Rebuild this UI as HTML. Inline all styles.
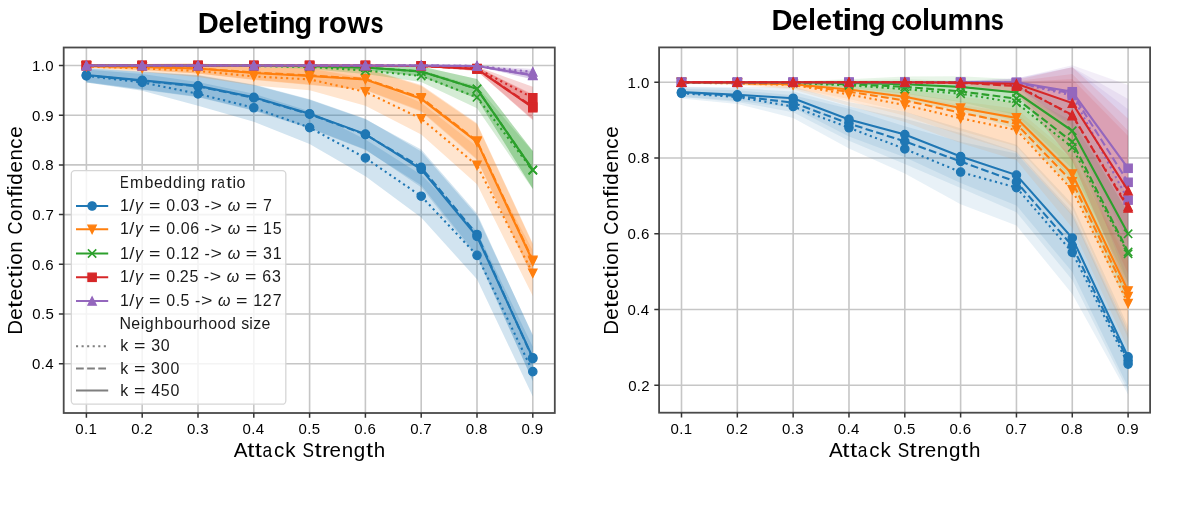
<!DOCTYPE html>
<html><head><meta charset="utf-8"><title>Detection Confidence vs Attack Strength</title>
<style>html,body{margin:0;padding:0;background:#fff;} body{width:1200px;height:506px;overflow:hidden;font-family:"Liberation Sans", sans-serif;} svg{display:block;filter:blur(0.3px);}</style>
</head><body>
<svg width="1200" height="506" viewBox="0 0 1200 506" font-family="'Liberation Sans', sans-serif" fill="#000">
<rect width="1200" height="506" fill="#fff"/>
<clipPath id="clipL"><rect x="63.7" y="47.5" width="491.10" height="365.50"/></clipPath>
<path d="M86.40,47.5V413.0M142.20,47.5V413.0M198.00,47.5V413.0M253.80,47.5V413.0M309.60,47.5V413.0M365.40,47.5V413.0M421.20,47.5V413.0M477.00,47.5V413.0M532.80,47.5V413.0M63.7,363.70H554.8M63.7,314.00H554.8M63.7,264.30H554.8M63.7,214.60H554.8M63.7,164.90H554.8M63.7,115.20H554.8M63.7,65.50H554.8" stroke="#c6c6c6" stroke-width="1.6" fill="none"/>
<g clip-path="url(#clipL)">
<polygon points="86.40,69.48 142.20,73.95 198.00,81.90 253.80,93.83 309.60,111.22 365.40,139.55 421.20,174.84 477.00,231.50 532.80,346.80 532.80,396.50 477.00,279.21 421.20,217.58 365.40,176.33 309.60,144.03 253.80,121.66 198.00,105.76 142.20,90.85 86.40,82.40" fill="#1f77b4" fill-opacity="0.2"/>
<polygon points="86.40,68.48 142.20,71.96 198.00,75.44 253.80,84.88 309.60,99.79 365.40,119.18 421.20,149.49 477.00,213.61 532.80,335.87 532.80,381.59 477.00,255.35 421.20,185.28 365.40,149.99 309.60,128.62 253.80,110.73 198.00,97.31 142.20,89.85 86.40,82.40" fill="#1f77b4" fill-opacity="0.2"/>
<polygon points="86.40,67.98 142.20,71.46 198.00,74.94 253.80,84.39 309.60,99.30 365.40,118.68 421.20,151.48 477.00,215.59 532.80,334.87 532.80,380.60 477.00,257.34 421.20,187.26 365.40,149.49 309.60,128.12 253.80,110.23 198.00,96.81 142.20,89.36 86.40,81.90" fill="#1f77b4" fill-opacity="0.2"/>
<polygon points="86.40,65.00 142.20,65.00 198.00,65.00 253.80,67.49 309.60,68.48 365.40,77.93 421.20,102.77 477.00,146.51 532.80,250.38 532.80,296.11 477.00,184.28 421.20,134.58 365.40,105.76 309.60,90.35 253.80,85.38 198.00,76.93 142.20,71.96 86.40,67.98" fill="#ff7f0e" fill-opacity="0.2"/>
<polygon points="86.40,64.51 142.20,64.01 198.00,63.51 253.80,65.50 309.60,66.49 365.40,67.98 421.20,84.88 477.00,123.15 532.80,243.43 532.80,277.22 477.00,158.94 421.20,110.73 365.40,89.85 309.60,84.39 253.80,79.42 198.00,73.45 142.20,69.97 86.40,67.49" fill="#ff7f0e" fill-opacity="0.2"/>
<polygon points="86.40,64.51 142.20,64.01 198.00,63.51 253.80,66.00 309.60,66.99 365.40,68.48 421.20,85.88 477.00,124.15 532.80,244.42 532.80,278.22 477.00,159.93 421.20,111.72 365.40,90.35 309.60,84.88 253.80,79.91 198.00,73.45 142.20,69.97 86.40,67.49" fill="#ff7f0e" fill-opacity="0.2"/>
<polygon points="86.40,65.50 142.20,65.50 198.00,65.00 253.80,65.00 309.60,65.00 365.40,66.99 421.20,69.97 477.00,86.37 532.80,151.48 532.80,189.25 477.00,108.24 421.20,81.90 365.40,73.95 309.60,68.98 253.80,66.99 198.00,66.00 142.20,65.50 86.40,65.50" fill="#2ca02c" fill-opacity="0.2"/>
<polygon points="86.40,65.50 142.20,65.50 198.00,65.00 253.80,64.51 309.60,64.51 365.40,65.00 421.20,66.49 477.00,78.92 532.80,150.98 532.80,188.76 477.00,98.80 421.20,76.43 365.40,69.97 309.60,67.49 253.80,66.49 198.00,66.00 142.20,65.50 86.40,65.50" fill="#2ca02c" fill-opacity="0.2"/>
<polygon points="86.40,65.50 142.20,65.50 198.00,65.00 253.80,64.51 309.60,64.51 365.40,65.00 421.20,66.49 477.00,78.92 532.80,150.98 532.80,188.76 477.00,98.80 421.20,76.43 365.40,69.97 309.60,67.49 253.80,66.49 198.00,66.00 142.20,65.50 86.40,65.50" fill="#2ca02c" fill-opacity="0.2"/>
<polygon points="86.40,65.50 142.20,65.50 198.00,65.50 253.80,65.50 309.60,65.50 365.40,65.50 421.20,65.50 477.00,66.49 532.80,86.87 532.80,108.74 477.00,70.47 421.20,66.49 365.40,65.50 309.60,65.50 253.80,65.50 198.00,65.50 142.20,65.50 86.40,65.50" fill="#d62728" fill-opacity="0.2"/>
<polygon points="86.40,65.50 142.20,65.50 198.00,65.50 253.80,65.50 309.60,65.50 365.40,65.50 421.20,65.50 477.00,66.99 532.80,94.33 532.80,119.18 477.00,70.97 421.20,66.49 365.40,65.50 309.60,65.50 253.80,65.50 198.00,65.50 142.20,65.50 86.40,65.50" fill="#d62728" fill-opacity="0.2"/>
<polygon points="86.40,65.50 142.20,65.50 198.00,65.50 253.80,65.50 309.60,65.50 365.40,65.50 421.20,65.50 477.00,66.99 532.80,95.32 532.80,120.17 477.00,70.97 421.20,66.49 365.40,65.50 309.60,65.50 253.80,65.50 198.00,65.50 142.20,65.50 86.40,65.50" fill="#d62728" fill-opacity="0.2"/>
<polygon points="86.40,65.50 142.20,65.50 198.00,65.50 253.80,65.50 309.60,65.50 365.40,65.50 421.20,65.50 477.00,65.50 532.80,68.98 532.80,74.94 477.00,66.49 421.20,65.50 365.40,65.50 309.60,65.50 253.80,65.50 198.00,65.50 142.20,65.50 86.40,65.50" fill="#9467bd" fill-opacity="0.2"/>
<polygon points="86.40,65.50 142.20,65.50 198.00,65.50 253.80,65.50 309.60,65.50 365.40,65.50 421.20,65.50 477.00,65.50 532.80,70.97 532.80,78.92 477.00,66.49 421.20,65.50 365.40,65.50 309.60,65.50 253.80,65.50 198.00,65.50 142.20,65.50 86.40,65.50" fill="#9467bd" fill-opacity="0.2"/>
<polygon points="86.40,65.50 142.20,65.50 198.00,65.50 253.80,65.50 309.60,65.50 365.40,65.50 421.20,65.50 477.00,65.50 532.80,71.46 532.80,79.42 477.00,66.49 421.20,65.50 365.40,65.50 309.60,65.50 253.80,65.50 198.00,65.50 142.20,65.50 86.40,65.50" fill="#9467bd" fill-opacity="0.2"/>
<polyline points="86.40,75.94 142.20,82.40 198.00,93.83 253.80,107.74 309.60,127.62 365.40,157.94 421.20,196.21 477.00,255.35 532.80,371.65" fill="none" stroke="#1f77b4" stroke-width="2.1" stroke-dasharray="2.10,3.46"/>
<circle cx="86.40" cy="75.94" r="4.15" fill="#1f77b4" stroke="#1f77b4" stroke-width="1.3"/>
<circle cx="142.20" cy="82.40" r="4.15" fill="#1f77b4" stroke="#1f77b4" stroke-width="1.3"/>
<circle cx="198.00" cy="93.83" r="4.15" fill="#1f77b4" stroke="#1f77b4" stroke-width="1.3"/>
<circle cx="253.80" cy="107.74" r="4.15" fill="#1f77b4" stroke="#1f77b4" stroke-width="1.3"/>
<circle cx="309.60" cy="127.62" r="4.15" fill="#1f77b4" stroke="#1f77b4" stroke-width="1.3"/>
<circle cx="365.40" cy="157.94" r="4.15" fill="#1f77b4" stroke="#1f77b4" stroke-width="1.3"/>
<circle cx="421.20" cy="196.21" r="4.15" fill="#1f77b4" stroke="#1f77b4" stroke-width="1.3"/>
<circle cx="477.00" cy="255.35" r="4.15" fill="#1f77b4" stroke="#1f77b4" stroke-width="1.3"/>
<circle cx="532.80" cy="371.65" r="4.15" fill="#1f77b4" stroke="#1f77b4" stroke-width="1.3"/>
<polyline points="86.40,75.44 142.20,80.91 198.00,86.37 253.80,97.80 309.60,114.21 365.40,134.58 421.20,167.38 477.00,234.48 532.80,358.73" fill="none" stroke="#1f77b4" stroke-width="2.1" stroke-dasharray="7.77,3.36"/>
<circle cx="86.40" cy="75.44" r="4.15" fill="#1f77b4" stroke="#1f77b4" stroke-width="1.3"/>
<circle cx="142.20" cy="80.91" r="4.15" fill="#1f77b4" stroke="#1f77b4" stroke-width="1.3"/>
<circle cx="198.00" cy="86.37" r="4.15" fill="#1f77b4" stroke="#1f77b4" stroke-width="1.3"/>
<circle cx="253.80" cy="97.80" r="4.15" fill="#1f77b4" stroke="#1f77b4" stroke-width="1.3"/>
<circle cx="309.60" cy="114.21" r="4.15" fill="#1f77b4" stroke="#1f77b4" stroke-width="1.3"/>
<circle cx="365.40" cy="134.58" r="4.15" fill="#1f77b4" stroke="#1f77b4" stroke-width="1.3"/>
<circle cx="421.20" cy="167.38" r="4.15" fill="#1f77b4" stroke="#1f77b4" stroke-width="1.3"/>
<circle cx="477.00" cy="234.48" r="4.15" fill="#1f77b4" stroke="#1f77b4" stroke-width="1.3"/>
<circle cx="532.80" cy="358.73" r="4.15" fill="#1f77b4" stroke="#1f77b4" stroke-width="1.3"/>
<polyline points="86.40,74.94 142.20,80.41 198.00,85.88 253.80,97.31 309.60,113.71 365.40,134.09 421.20,169.37 477.00,236.47 532.80,357.74" fill="none" stroke="#1f77b4" stroke-width="2.1"/>
<circle cx="86.40" cy="74.94" r="4.15" fill="#1f77b4" stroke="#1f77b4" stroke-width="1.3"/>
<circle cx="142.20" cy="80.41" r="4.15" fill="#1f77b4" stroke="#1f77b4" stroke-width="1.3"/>
<circle cx="198.00" cy="85.88" r="4.15" fill="#1f77b4" stroke="#1f77b4" stroke-width="1.3"/>
<circle cx="253.80" cy="97.31" r="4.15" fill="#1f77b4" stroke="#1f77b4" stroke-width="1.3"/>
<circle cx="309.60" cy="113.71" r="4.15" fill="#1f77b4" stroke="#1f77b4" stroke-width="1.3"/>
<circle cx="365.40" cy="134.09" r="4.15" fill="#1f77b4" stroke="#1f77b4" stroke-width="1.3"/>
<circle cx="421.20" cy="169.37" r="4.15" fill="#1f77b4" stroke="#1f77b4" stroke-width="1.3"/>
<circle cx="477.00" cy="236.47" r="4.15" fill="#1f77b4" stroke="#1f77b4" stroke-width="1.3"/>
<circle cx="532.80" cy="357.74" r="4.15" fill="#1f77b4" stroke="#1f77b4" stroke-width="1.3"/>
<polyline points="86.40,66.49 142.20,68.48 198.00,70.97 253.80,76.43 309.60,79.42 365.40,91.84 421.20,118.68 477.00,165.40 532.80,273.25" fill="none" stroke="#ff7f0e" stroke-width="2.1" stroke-dasharray="2.10,3.46"/>
<polygon points="82.25,62.34 90.55,62.34 86.40,70.64" fill="#ff7f0e" stroke="#ff7f0e" stroke-width="1.3" stroke-linejoin="miter"/>
<polygon points="138.05,64.33 146.35,64.33 142.20,72.63" fill="#ff7f0e" stroke="#ff7f0e" stroke-width="1.3" stroke-linejoin="miter"/>
<polygon points="193.85,66.82 202.15,66.82 198.00,75.12" fill="#ff7f0e" stroke="#ff7f0e" stroke-width="1.3" stroke-linejoin="miter"/>
<polygon points="249.65,72.28 257.95,72.28 253.80,80.58" fill="#ff7f0e" stroke="#ff7f0e" stroke-width="1.3" stroke-linejoin="miter"/>
<polygon points="305.45,75.27 313.75,75.27 309.60,83.57" fill="#ff7f0e" stroke="#ff7f0e" stroke-width="1.3" stroke-linejoin="miter"/>
<polygon points="361.25,87.69 369.55,87.69 365.40,95.99" fill="#ff7f0e" stroke="#ff7f0e" stroke-width="1.3" stroke-linejoin="miter"/>
<polygon points="417.05,114.53 425.35,114.53 421.20,122.83" fill="#ff7f0e" stroke="#ff7f0e" stroke-width="1.3" stroke-linejoin="miter"/>
<polygon points="472.85,161.25 481.15,161.25 477.00,169.55" fill="#ff7f0e" stroke="#ff7f0e" stroke-width="1.3" stroke-linejoin="miter"/>
<polygon points="528.65,269.10 536.95,269.10 532.80,277.40" fill="#ff7f0e" stroke="#ff7f0e" stroke-width="1.3" stroke-linejoin="miter"/>
<polyline points="86.40,66.00 142.20,66.99 198.00,68.48 253.80,72.46 309.60,75.44 365.40,78.92 421.20,97.80 477.00,141.04 532.80,260.32" fill="none" stroke="#ff7f0e" stroke-width="2.1" stroke-dasharray="7.77,3.36"/>
<polygon points="82.25,61.85 90.55,61.85 86.40,70.15" fill="#ff7f0e" stroke="#ff7f0e" stroke-width="1.3" stroke-linejoin="miter"/>
<polygon points="138.05,62.84 146.35,62.84 142.20,71.14" fill="#ff7f0e" stroke="#ff7f0e" stroke-width="1.3" stroke-linejoin="miter"/>
<polygon points="193.85,64.33 202.15,64.33 198.00,72.63" fill="#ff7f0e" stroke="#ff7f0e" stroke-width="1.3" stroke-linejoin="miter"/>
<polygon points="249.65,68.31 257.95,68.31 253.80,76.61" fill="#ff7f0e" stroke="#ff7f0e" stroke-width="1.3" stroke-linejoin="miter"/>
<polygon points="305.45,71.29 313.75,71.29 309.60,79.59" fill="#ff7f0e" stroke="#ff7f0e" stroke-width="1.3" stroke-linejoin="miter"/>
<polygon points="361.25,74.77 369.55,74.77 365.40,83.07" fill="#ff7f0e" stroke="#ff7f0e" stroke-width="1.3" stroke-linejoin="miter"/>
<polygon points="417.05,93.65 425.35,93.65 421.20,101.95" fill="#ff7f0e" stroke="#ff7f0e" stroke-width="1.3" stroke-linejoin="miter"/>
<polygon points="472.85,136.89 481.15,136.89 477.00,145.19" fill="#ff7f0e" stroke="#ff7f0e" stroke-width="1.3" stroke-linejoin="miter"/>
<polygon points="528.65,256.17 536.95,256.17 532.80,264.47" fill="#ff7f0e" stroke="#ff7f0e" stroke-width="1.3" stroke-linejoin="miter"/>
<polyline points="86.40,66.00 142.20,66.99 198.00,68.48 253.80,72.96 309.60,75.94 365.40,79.42 421.20,98.80 477.00,142.04 532.80,261.32" fill="none" stroke="#ff7f0e" stroke-width="2.1"/>
<polygon points="82.25,61.85 90.55,61.85 86.40,70.15" fill="#ff7f0e" stroke="#ff7f0e" stroke-width="1.3" stroke-linejoin="miter"/>
<polygon points="138.05,62.84 146.35,62.84 142.20,71.14" fill="#ff7f0e" stroke="#ff7f0e" stroke-width="1.3" stroke-linejoin="miter"/>
<polygon points="193.85,64.33 202.15,64.33 198.00,72.63" fill="#ff7f0e" stroke="#ff7f0e" stroke-width="1.3" stroke-linejoin="miter"/>
<polygon points="249.65,68.81 257.95,68.81 253.80,77.11" fill="#ff7f0e" stroke="#ff7f0e" stroke-width="1.3" stroke-linejoin="miter"/>
<polygon points="305.45,71.79 313.75,71.79 309.60,80.09" fill="#ff7f0e" stroke="#ff7f0e" stroke-width="1.3" stroke-linejoin="miter"/>
<polygon points="361.25,75.27 369.55,75.27 365.40,83.57" fill="#ff7f0e" stroke="#ff7f0e" stroke-width="1.3" stroke-linejoin="miter"/>
<polygon points="417.05,94.65 425.35,94.65 421.20,102.95" fill="#ff7f0e" stroke="#ff7f0e" stroke-width="1.3" stroke-linejoin="miter"/>
<polygon points="472.85,137.89 481.15,137.89 477.00,146.19" fill="#ff7f0e" stroke="#ff7f0e" stroke-width="1.3" stroke-linejoin="miter"/>
<polygon points="528.65,257.17 536.95,257.17 532.80,265.47" fill="#ff7f0e" stroke="#ff7f0e" stroke-width="1.3" stroke-linejoin="miter"/>
<polyline points="86.40,65.50 142.20,65.50 198.00,65.50 253.80,66.00 309.60,66.99 365.40,70.47 421.20,75.94 477.00,97.31 532.80,170.37" fill="none" stroke="#2ca02c" stroke-width="2.1" stroke-dasharray="2.10,3.46"/>
<path d="M82.25,61.35L90.55,69.65M82.25,69.65L90.55,61.35" stroke="#2ca02c" stroke-width="1.6" fill="none"/>
<path d="M138.05,61.35L146.35,69.65M138.05,69.65L146.35,61.35" stroke="#2ca02c" stroke-width="1.6" fill="none"/>
<path d="M193.85,61.35L202.15,69.65M193.85,69.65L202.15,61.35" stroke="#2ca02c" stroke-width="1.6" fill="none"/>
<path d="M249.65,61.85L257.95,70.15M249.65,70.15L257.95,61.85" stroke="#2ca02c" stroke-width="1.6" fill="none"/>
<path d="M305.45,62.84L313.75,71.14M305.45,71.14L313.75,62.84" stroke="#2ca02c" stroke-width="1.6" fill="none"/>
<path d="M361.25,66.32L369.55,74.62M361.25,74.62L369.55,66.32" stroke="#2ca02c" stroke-width="1.6" fill="none"/>
<path d="M417.05,71.79L425.35,80.09M417.05,80.09L425.35,71.79" stroke="#2ca02c" stroke-width="1.6" fill="none"/>
<path d="M472.85,93.16L481.15,101.46M472.85,101.46L481.15,93.16" stroke="#2ca02c" stroke-width="1.6" fill="none"/>
<path d="M528.65,166.22L536.95,174.52M528.65,174.52L536.95,166.22" stroke="#2ca02c" stroke-width="1.6" fill="none"/>
<polyline points="86.40,65.50 142.20,65.50 198.00,65.50 253.80,65.50 309.60,66.00 365.40,67.49 421.20,71.46 477.00,88.86 532.80,169.87" fill="none" stroke="#2ca02c" stroke-width="2.1" stroke-dasharray="7.77,3.36"/>
<path d="M82.25,61.35L90.55,69.65M82.25,69.65L90.55,61.35" stroke="#2ca02c" stroke-width="1.6" fill="none"/>
<path d="M138.05,61.35L146.35,69.65M138.05,69.65L146.35,61.35" stroke="#2ca02c" stroke-width="1.6" fill="none"/>
<path d="M193.85,61.35L202.15,69.65M193.85,69.65L202.15,61.35" stroke="#2ca02c" stroke-width="1.6" fill="none"/>
<path d="M249.65,61.35L257.95,69.65M249.65,69.65L257.95,61.35" stroke="#2ca02c" stroke-width="1.6" fill="none"/>
<path d="M305.45,61.85L313.75,70.15M305.45,70.15L313.75,61.85" stroke="#2ca02c" stroke-width="1.6" fill="none"/>
<path d="M361.25,63.34L369.55,71.64M361.25,71.64L369.55,63.34" stroke="#2ca02c" stroke-width="1.6" fill="none"/>
<path d="M417.05,67.31L425.35,75.61M417.05,75.61L425.35,67.31" stroke="#2ca02c" stroke-width="1.6" fill="none"/>
<path d="M472.85,84.71L481.15,93.01M472.85,93.01L481.15,84.71" stroke="#2ca02c" stroke-width="1.6" fill="none"/>
<path d="M528.65,165.72L536.95,174.02M528.65,174.02L536.95,165.72" stroke="#2ca02c" stroke-width="1.6" fill="none"/>
<polyline points="86.40,65.50 142.20,65.50 198.00,65.50 253.80,65.50 309.60,66.00 365.40,67.49 421.20,71.46 477.00,88.86 532.80,169.87" fill="none" stroke="#2ca02c" stroke-width="2.1"/>
<path d="M82.25,61.35L90.55,69.65M82.25,69.65L90.55,61.35" stroke="#2ca02c" stroke-width="1.6" fill="none"/>
<path d="M138.05,61.35L146.35,69.65M138.05,69.65L146.35,61.35" stroke="#2ca02c" stroke-width="1.6" fill="none"/>
<path d="M193.85,61.35L202.15,69.65M193.85,69.65L202.15,61.35" stroke="#2ca02c" stroke-width="1.6" fill="none"/>
<path d="M249.65,61.35L257.95,69.65M249.65,69.65L257.95,61.35" stroke="#2ca02c" stroke-width="1.6" fill="none"/>
<path d="M305.45,61.85L313.75,70.15M305.45,70.15L313.75,61.85" stroke="#2ca02c" stroke-width="1.6" fill="none"/>
<path d="M361.25,63.34L369.55,71.64M361.25,71.64L369.55,63.34" stroke="#2ca02c" stroke-width="1.6" fill="none"/>
<path d="M417.05,67.31L425.35,75.61M417.05,75.61L425.35,67.31" stroke="#2ca02c" stroke-width="1.6" fill="none"/>
<path d="M472.85,84.71L481.15,93.01M472.85,93.01L481.15,84.71" stroke="#2ca02c" stroke-width="1.6" fill="none"/>
<path d="M528.65,165.72L536.95,174.02M528.65,174.02L536.95,165.72" stroke="#2ca02c" stroke-width="1.6" fill="none"/>
<polyline points="86.40,65.50 142.20,65.50 198.00,65.50 253.80,65.50 309.60,65.50 365.40,65.50 421.20,66.00 477.00,68.48 532.80,97.80" fill="none" stroke="#d62728" stroke-width="2.1" stroke-dasharray="2.10,3.46"/>
<rect x="82.25" y="61.35" width="8.30" height="8.30" fill="#d62728" stroke="#d62728" stroke-width="1.3"/>
<rect x="138.05" y="61.35" width="8.30" height="8.30" fill="#d62728" stroke="#d62728" stroke-width="1.3"/>
<rect x="193.85" y="61.35" width="8.30" height="8.30" fill="#d62728" stroke="#d62728" stroke-width="1.3"/>
<rect x="249.65" y="61.35" width="8.30" height="8.30" fill="#d62728" stroke="#d62728" stroke-width="1.3"/>
<rect x="305.45" y="61.35" width="8.30" height="8.30" fill="#d62728" stroke="#d62728" stroke-width="1.3"/>
<rect x="361.25" y="61.35" width="8.30" height="8.30" fill="#d62728" stroke="#d62728" stroke-width="1.3"/>
<rect x="417.05" y="61.85" width="8.30" height="8.30" fill="#d62728" stroke="#d62728" stroke-width="1.3"/>
<rect x="472.85" y="64.33" width="8.30" height="8.30" fill="#d62728" stroke="#d62728" stroke-width="1.3"/>
<rect x="528.65" y="93.65" width="8.30" height="8.30" fill="#d62728" stroke="#d62728" stroke-width="1.3"/>
<polyline points="86.40,65.50 142.20,65.50 198.00,65.50 253.80,65.50 309.60,65.50 365.40,65.50 421.20,66.00 477.00,68.98 532.80,106.75" fill="none" stroke="#d62728" stroke-width="2.1" stroke-dasharray="7.77,3.36"/>
<rect x="82.25" y="61.35" width="8.30" height="8.30" fill="#d62728" stroke="#d62728" stroke-width="1.3"/>
<rect x="138.05" y="61.35" width="8.30" height="8.30" fill="#d62728" stroke="#d62728" stroke-width="1.3"/>
<rect x="193.85" y="61.35" width="8.30" height="8.30" fill="#d62728" stroke="#d62728" stroke-width="1.3"/>
<rect x="249.65" y="61.35" width="8.30" height="8.30" fill="#d62728" stroke="#d62728" stroke-width="1.3"/>
<rect x="305.45" y="61.35" width="8.30" height="8.30" fill="#d62728" stroke="#d62728" stroke-width="1.3"/>
<rect x="361.25" y="61.35" width="8.30" height="8.30" fill="#d62728" stroke="#d62728" stroke-width="1.3"/>
<rect x="417.05" y="61.85" width="8.30" height="8.30" fill="#d62728" stroke="#d62728" stroke-width="1.3"/>
<rect x="472.85" y="64.83" width="8.30" height="8.30" fill="#d62728" stroke="#d62728" stroke-width="1.3"/>
<rect x="528.65" y="102.60" width="8.30" height="8.30" fill="#d62728" stroke="#d62728" stroke-width="1.3"/>
<polyline points="86.40,65.50 142.20,65.50 198.00,65.50 253.80,65.50 309.60,65.50 365.40,65.50 421.20,66.00 477.00,68.98 532.80,107.74" fill="none" stroke="#d62728" stroke-width="2.1"/>
<rect x="82.25" y="61.35" width="8.30" height="8.30" fill="#d62728" stroke="#d62728" stroke-width="1.3"/>
<rect x="138.05" y="61.35" width="8.30" height="8.30" fill="#d62728" stroke="#d62728" stroke-width="1.3"/>
<rect x="193.85" y="61.35" width="8.30" height="8.30" fill="#d62728" stroke="#d62728" stroke-width="1.3"/>
<rect x="249.65" y="61.35" width="8.30" height="8.30" fill="#d62728" stroke="#d62728" stroke-width="1.3"/>
<rect x="305.45" y="61.35" width="8.30" height="8.30" fill="#d62728" stroke="#d62728" stroke-width="1.3"/>
<rect x="361.25" y="61.35" width="8.30" height="8.30" fill="#d62728" stroke="#d62728" stroke-width="1.3"/>
<rect x="417.05" y="61.85" width="8.30" height="8.30" fill="#d62728" stroke="#d62728" stroke-width="1.3"/>
<rect x="472.85" y="64.83" width="8.30" height="8.30" fill="#d62728" stroke="#d62728" stroke-width="1.3"/>
<rect x="528.65" y="103.59" width="8.30" height="8.30" fill="#d62728" stroke="#d62728" stroke-width="1.3"/>
<polyline points="86.40,65.50 142.20,65.50 198.00,65.50 253.80,65.50 309.60,65.50 365.40,65.50 421.20,65.50 477.00,66.00 532.80,71.96" fill="none" stroke="#9467bd" stroke-width="2.1" stroke-dasharray="2.10,3.46"/>
<polygon points="82.25,69.65 90.55,69.65 86.40,61.35" fill="#9467bd" stroke="#9467bd" stroke-width="1.3" stroke-linejoin="miter"/>
<polygon points="138.05,69.65 146.35,69.65 142.20,61.35" fill="#9467bd" stroke="#9467bd" stroke-width="1.3" stroke-linejoin="miter"/>
<polygon points="193.85,69.65 202.15,69.65 198.00,61.35" fill="#9467bd" stroke="#9467bd" stroke-width="1.3" stroke-linejoin="miter"/>
<polygon points="249.65,69.65 257.95,69.65 253.80,61.35" fill="#9467bd" stroke="#9467bd" stroke-width="1.3" stroke-linejoin="miter"/>
<polygon points="305.45,69.65 313.75,69.65 309.60,61.35" fill="#9467bd" stroke="#9467bd" stroke-width="1.3" stroke-linejoin="miter"/>
<polygon points="361.25,69.65 369.55,69.65 365.40,61.35" fill="#9467bd" stroke="#9467bd" stroke-width="1.3" stroke-linejoin="miter"/>
<polygon points="417.05,69.65 425.35,69.65 421.20,61.35" fill="#9467bd" stroke="#9467bd" stroke-width="1.3" stroke-linejoin="miter"/>
<polygon points="472.85,70.15 481.15,70.15 477.00,61.85" fill="#9467bd" stroke="#9467bd" stroke-width="1.3" stroke-linejoin="miter"/>
<polygon points="528.65,76.11 536.95,76.11 532.80,67.81" fill="#9467bd" stroke="#9467bd" stroke-width="1.3" stroke-linejoin="miter"/>
<polyline points="86.40,65.50 142.20,65.50 198.00,65.50 253.80,65.50 309.60,65.50 365.40,65.50 421.20,65.50 477.00,66.00 532.80,74.94" fill="none" stroke="#9467bd" stroke-width="2.1" stroke-dasharray="7.77,3.36"/>
<polygon points="82.25,69.65 90.55,69.65 86.40,61.35" fill="#9467bd" stroke="#9467bd" stroke-width="1.3" stroke-linejoin="miter"/>
<polygon points="138.05,69.65 146.35,69.65 142.20,61.35" fill="#9467bd" stroke="#9467bd" stroke-width="1.3" stroke-linejoin="miter"/>
<polygon points="193.85,69.65 202.15,69.65 198.00,61.35" fill="#9467bd" stroke="#9467bd" stroke-width="1.3" stroke-linejoin="miter"/>
<polygon points="249.65,69.65 257.95,69.65 253.80,61.35" fill="#9467bd" stroke="#9467bd" stroke-width="1.3" stroke-linejoin="miter"/>
<polygon points="305.45,69.65 313.75,69.65 309.60,61.35" fill="#9467bd" stroke="#9467bd" stroke-width="1.3" stroke-linejoin="miter"/>
<polygon points="361.25,69.65 369.55,69.65 365.40,61.35" fill="#9467bd" stroke="#9467bd" stroke-width="1.3" stroke-linejoin="miter"/>
<polygon points="417.05,69.65 425.35,69.65 421.20,61.35" fill="#9467bd" stroke="#9467bd" stroke-width="1.3" stroke-linejoin="miter"/>
<polygon points="472.85,70.15 481.15,70.15 477.00,61.85" fill="#9467bd" stroke="#9467bd" stroke-width="1.3" stroke-linejoin="miter"/>
<polygon points="528.65,79.09 536.95,79.09 532.80,70.79" fill="#9467bd" stroke="#9467bd" stroke-width="1.3" stroke-linejoin="miter"/>
<polyline points="86.40,65.50 142.20,65.50 198.00,65.50 253.80,65.50 309.60,65.50 365.40,65.50 421.20,65.50 477.00,66.00 532.80,75.44" fill="none" stroke="#9467bd" stroke-width="2.1"/>
<polygon points="82.25,69.65 90.55,69.65 86.40,61.35" fill="#9467bd" stroke="#9467bd" stroke-width="1.3" stroke-linejoin="miter"/>
<polygon points="138.05,69.65 146.35,69.65 142.20,61.35" fill="#9467bd" stroke="#9467bd" stroke-width="1.3" stroke-linejoin="miter"/>
<polygon points="193.85,69.65 202.15,69.65 198.00,61.35" fill="#9467bd" stroke="#9467bd" stroke-width="1.3" stroke-linejoin="miter"/>
<polygon points="249.65,69.65 257.95,69.65 253.80,61.35" fill="#9467bd" stroke="#9467bd" stroke-width="1.3" stroke-linejoin="miter"/>
<polygon points="305.45,69.65 313.75,69.65 309.60,61.35" fill="#9467bd" stroke="#9467bd" stroke-width="1.3" stroke-linejoin="miter"/>
<polygon points="361.25,69.65 369.55,69.65 365.40,61.35" fill="#9467bd" stroke="#9467bd" stroke-width="1.3" stroke-linejoin="miter"/>
<polygon points="417.05,69.65 425.35,69.65 421.20,61.35" fill="#9467bd" stroke="#9467bd" stroke-width="1.3" stroke-linejoin="miter"/>
<polygon points="472.85,70.15 481.15,70.15 477.00,61.85" fill="#9467bd" stroke="#9467bd" stroke-width="1.3" stroke-linejoin="miter"/>
<polygon points="528.65,79.59 536.95,79.59 532.80,71.29" fill="#9467bd" stroke="#9467bd" stroke-width="1.3" stroke-linejoin="miter"/>
</g>
<rect x="63.7" y="47.5" width="491.10" height="365.50" fill="none" stroke="#4a4a4a" stroke-width="1.8"/>
<path d="M86.40,413.0v4.8M142.20,413.0v4.8M198.00,413.0v4.8M253.80,413.0v4.8M309.60,413.0v4.8M365.40,413.0v4.8M421.20,413.0v4.8M477.00,413.0v4.8M532.80,413.0v4.8M63.7,363.70h-4.8M63.7,314.00h-4.8M63.7,264.30h-4.8M63.7,214.60h-4.8M63.7,164.90h-4.8M63.7,115.20h-4.8M63.7,65.50h-4.8" stroke="#333" stroke-width="1.5" fill="none"/>
<clipPath id="clipR"><rect x="659.1" y="47.4" width="491.00" height="365.30"/></clipPath>
<path d="M681.50,47.4V412.7M737.33,47.4V412.7M793.15,47.4V412.7M848.98,47.4V412.7M904.80,47.4V412.7M960.62,47.4V412.7M1016.45,47.4V412.7M1072.27,47.4V412.7M1128.10,47.4V412.7M659.1,385.30H1150.1M659.1,309.55H1150.1M659.1,233.80H1150.1M659.1,158.05H1150.1M659.1,82.30H1150.1" stroke="#c6c6c6" stroke-width="1.6" fill="none"/>
<g clip-path="url(#clipR)">
<polygon points="681.50,88.74 737.33,90.25 793.15,95.18 848.98,108.81 904.80,126.24 960.62,141.76 1016.45,153.51 1072.27,214.48 1128.10,333.79 1128.10,394.39 1072.27,294.02 1016.45,225.47 960.62,204.26 904.80,173.58 848.98,148.58 793.15,117.90 737.33,103.89 681.50,98.59" fill="#1f77b4" fill-opacity="0.1"/>
<polygon points="681.50,87.22 737.33,88.36 793.15,91.39 848.98,106.54 904.80,118.66 960.62,133.05 1016.45,151.61 1072.27,211.83 1128.10,330.38 1128.10,390.98 1072.27,280.01 1016.45,212.21 960.62,187.97 904.80,164.11 848.98,140.63 793.15,112.22 737.33,102.00 681.50,97.07" fill="#1f77b4" fill-opacity="0.1"/>
<polygon points="681.50,86.84 737.33,87.22 793.15,86.84 848.98,102.37 904.80,111.84 960.62,128.13 1016.45,144.79 1072.27,203.88 1128.10,326.59 1128.10,387.19 1072.27,272.05 1016.45,205.39 960.62,183.05 904.80,157.29 848.98,136.46 793.15,107.68 737.33,100.86 681.50,96.69" fill="#1f77b4" fill-opacity="0.1"/>
<polygon points="681.50,82.30 737.33,82.30 793.15,82.68 848.98,88.74 904.80,95.56 960.62,105.02 1016.45,112.98 1072.27,159.56 1128.10,261.83 1128.10,348.94 1072.27,227.74 1016.45,160.32 960.62,142.90 904.80,122.07 848.98,105.78 793.15,89.50 737.33,85.33 681.50,83.44" fill="#ff7f0e" fill-opacity="0.09"/>
<polygon points="681.50,81.92 737.33,82.30 793.15,82.68 848.98,87.22 904.80,92.91 960.62,101.24 1016.45,108.81 1072.27,155.40 1128.10,258.80 1128.10,338.33 1072.27,216.00 1016.45,152.37 960.62,135.32 904.80,115.63 848.98,101.24 793.15,88.36 737.33,84.57 681.50,83.06" fill="#ff7f0e" fill-opacity="0.09"/>
<polygon points="681.50,81.92 737.33,82.30 793.15,82.30 848.98,84.95 904.80,89.12 960.62,96.69 1016.45,102.75 1072.27,147.44 1128.10,253.12 1128.10,332.65 1072.27,208.04 1016.45,146.31 960.62,130.78 904.80,111.84 848.98,98.97 793.15,87.98 737.33,84.57 681.50,83.06" fill="#ff7f0e" fill-opacity="0.09"/>
<polygon points="681.50,82.30 737.33,81.92 793.15,82.30 848.98,83.06 904.80,84.57 960.62,86.09 1016.45,91.39 1072.27,120.93 1128.10,212.21 1128.10,306.90 1072.27,189.11 1016.45,129.27 960.62,110.71 904.80,100.48 848.98,91.01 793.15,84.95 737.33,82.68 681.50,82.30" fill="#2ca02c" fill-opacity="0.11"/>
<polygon points="681.50,82.30 737.33,81.92 793.15,81.54 848.98,80.41 904.80,79.27 960.62,80.78 1016.45,85.33 1072.27,115.25 1128.10,214.10 1128.10,301.22 1072.27,179.64 1016.45,121.31 960.62,106.54 904.80,96.31 848.98,88.74 793.15,84.19 737.33,82.68 681.50,82.30" fill="#2ca02c" fill-opacity="0.11"/>
<polygon points="681.50,82.30 737.33,81.92 793.15,81.16 848.98,79.27 904.80,76.62 960.62,76.24 1016.45,79.27 1072.27,104.27 1128.10,195.93 1128.10,283.04 1072.27,168.65 1016.45,115.25 960.62,102.00 904.80,93.66 848.98,87.60 793.15,83.81 737.33,82.68 681.50,82.30" fill="#2ca02c" fill-opacity="0.11"/>
<polygon points="681.50,82.30 737.33,82.30 793.15,82.30 848.98,82.30 904.80,81.92 960.62,80.78 1016.45,78.13 1072.27,67.15 1128.10,109.19 1128.10,283.42 1072.27,133.43 1016.45,87.22 960.62,83.81 904.80,82.68 848.98,82.30 793.15,82.30 737.33,82.30 681.50,82.30" fill="#9467bd" fill-opacity="0.11"/>
<polygon points="681.50,82.30 737.33,82.30 793.15,82.30 848.98,82.30 904.80,81.92 960.62,81.16 1016.45,78.89 1072.27,67.15 1128.10,98.97 1128.10,258.04 1072.27,127.75 1016.45,86.47 960.62,83.44 904.80,82.68 848.98,82.30 793.15,82.30 737.33,82.30 681.50,82.30" fill="#9467bd" fill-opacity="0.11"/>
<polygon points="681.50,82.30 737.33,82.30 793.15,82.30 848.98,82.30 904.80,81.92 960.62,81.16 1016.45,78.51 1072.27,65.26 1128.10,84.95 1128.10,244.03 1072.27,125.86 1016.45,86.09 960.62,83.44 904.80,82.68 848.98,82.30 793.15,82.30 737.33,82.30 681.50,82.30" fill="#9467bd" fill-opacity="0.11"/>
<polygon points="681.50,82.30 737.33,82.30 793.15,82.30 848.98,82.30 904.80,81.92 960.62,81.54 1016.45,81.16 1072.27,73.97 1128.10,130.78 1128.10,289.85 1072.27,161.08 1016.45,92.53 960.62,84.95 904.80,83.06 848.98,82.30 793.15,82.30 737.33,82.30 681.50,82.30" fill="#d62728" fill-opacity="0.1"/>
<polygon points="681.50,82.30 737.33,82.30 793.15,82.30 848.98,82.30 904.80,81.92 960.62,81.54 1016.45,82.30 1072.27,78.89 1128.10,136.08 1128.10,291.37 1072.27,160.32 1016.45,93.66 960.62,84.95 904.80,83.06 848.98,82.30 793.15,82.30 737.33,82.30 681.50,82.30" fill="#d62728" fill-opacity="0.1"/>
<polygon points="681.50,82.30 737.33,82.30 793.15,82.30 848.98,82.30 904.80,81.92 960.62,81.54 1016.45,80.03 1072.27,67.15 1128.10,118.66 1128.10,273.95 1072.27,148.58 1016.45,91.39 960.62,84.95 904.80,83.06 848.98,82.30 793.15,82.30 737.33,82.30 681.50,82.30" fill="#d62728" fill-opacity="0.1"/>
<polyline points="681.50,93.28 737.33,97.07 793.15,106.54 848.98,127.75 904.80,148.96 960.62,172.06 1016.45,187.59 1072.27,252.36 1128.10,364.09" fill="none" stroke="#1f77b4" stroke-width="2.1" stroke-dasharray="2.10,3.46"/>
<circle cx="681.50" cy="93.28" r="4.15" fill="#1f77b4" stroke="#1f77b4" stroke-width="1.3"/>
<circle cx="737.33" cy="97.07" r="4.15" fill="#1f77b4" stroke="#1f77b4" stroke-width="1.3"/>
<circle cx="793.15" cy="106.54" r="4.15" fill="#1f77b4" stroke="#1f77b4" stroke-width="1.3"/>
<circle cx="848.98" cy="127.75" r="4.15" fill="#1f77b4" stroke="#1f77b4" stroke-width="1.3"/>
<circle cx="904.80" cy="148.96" r="4.15" fill="#1f77b4" stroke="#1f77b4" stroke-width="1.3"/>
<circle cx="960.62" cy="172.06" r="4.15" fill="#1f77b4" stroke="#1f77b4" stroke-width="1.3"/>
<circle cx="1016.45" cy="187.59" r="4.15" fill="#1f77b4" stroke="#1f77b4" stroke-width="1.3"/>
<circle cx="1072.27" cy="252.36" r="4.15" fill="#1f77b4" stroke="#1f77b4" stroke-width="1.3"/>
<circle cx="1128.10" cy="364.09" r="4.15" fill="#1f77b4" stroke="#1f77b4" stroke-width="1.3"/>
<polyline points="681.50,92.53 737.33,95.94 793.15,102.75 848.98,123.58 904.80,141.38 960.62,161.46 1016.45,181.91 1072.27,245.92 1128.10,360.68" fill="none" stroke="#1f77b4" stroke-width="2.1" stroke-dasharray="7.77,3.36"/>
<circle cx="681.50" cy="92.53" r="4.15" fill="#1f77b4" stroke="#1f77b4" stroke-width="1.3"/>
<circle cx="737.33" cy="95.94" r="4.15" fill="#1f77b4" stroke="#1f77b4" stroke-width="1.3"/>
<circle cx="793.15" cy="102.75" r="4.15" fill="#1f77b4" stroke="#1f77b4" stroke-width="1.3"/>
<circle cx="848.98" cy="123.58" r="4.15" fill="#1f77b4" stroke="#1f77b4" stroke-width="1.3"/>
<circle cx="904.80" cy="141.38" r="4.15" fill="#1f77b4" stroke="#1f77b4" stroke-width="1.3"/>
<circle cx="960.62" cy="161.46" r="4.15" fill="#1f77b4" stroke="#1f77b4" stroke-width="1.3"/>
<circle cx="1016.45" cy="181.91" r="4.15" fill="#1f77b4" stroke="#1f77b4" stroke-width="1.3"/>
<circle cx="1072.27" cy="245.92" r="4.15" fill="#1f77b4" stroke="#1f77b4" stroke-width="1.3"/>
<circle cx="1128.10" cy="360.68" r="4.15" fill="#1f77b4" stroke="#1f77b4" stroke-width="1.3"/>
<polyline points="681.50,92.15 737.33,94.80 793.15,98.21 848.98,119.42 904.80,134.57 960.62,156.53 1016.45,175.09 1072.27,237.97 1128.10,356.89" fill="none" stroke="#1f77b4" stroke-width="2.1"/>
<circle cx="681.50" cy="92.15" r="4.15" fill="#1f77b4" stroke="#1f77b4" stroke-width="1.3"/>
<circle cx="737.33" cy="94.80" r="4.15" fill="#1f77b4" stroke="#1f77b4" stroke-width="1.3"/>
<circle cx="793.15" cy="98.21" r="4.15" fill="#1f77b4" stroke="#1f77b4" stroke-width="1.3"/>
<circle cx="848.98" cy="119.42" r="4.15" fill="#1f77b4" stroke="#1f77b4" stroke-width="1.3"/>
<circle cx="904.80" cy="134.57" r="4.15" fill="#1f77b4" stroke="#1f77b4" stroke-width="1.3"/>
<circle cx="960.62" cy="156.53" r="4.15" fill="#1f77b4" stroke="#1f77b4" stroke-width="1.3"/>
<circle cx="1016.45" cy="175.09" r="4.15" fill="#1f77b4" stroke="#1f77b4" stroke-width="1.3"/>
<circle cx="1072.27" cy="237.97" r="4.15" fill="#1f77b4" stroke="#1f77b4" stroke-width="1.3"/>
<circle cx="1128.10" cy="356.89" r="4.15" fill="#1f77b4" stroke="#1f77b4" stroke-width="1.3"/>
<polyline points="681.50,82.68 737.33,83.44 793.15,84.95 848.98,94.42 904.80,105.03 960.62,118.28 1016.45,130.02 1072.27,189.87 1128.10,303.49" fill="none" stroke="#ff7f0e" stroke-width="2.1" stroke-dasharray="2.10,3.46"/>
<polygon points="677.35,78.53 685.65,78.53 681.50,86.83" fill="#ff7f0e" stroke="#ff7f0e" stroke-width="1.3" stroke-linejoin="miter"/>
<polygon points="733.18,79.29 741.48,79.29 737.33,87.59" fill="#ff7f0e" stroke="#ff7f0e" stroke-width="1.3" stroke-linejoin="miter"/>
<polygon points="789.00,80.80 797.30,80.80 793.15,89.10" fill="#ff7f0e" stroke="#ff7f0e" stroke-width="1.3" stroke-linejoin="miter"/>
<polygon points="844.83,90.27 853.12,90.27 848.98,98.57" fill="#ff7f0e" stroke="#ff7f0e" stroke-width="1.3" stroke-linejoin="miter"/>
<polygon points="900.65,100.88 908.95,100.88 904.80,109.18" fill="#ff7f0e" stroke="#ff7f0e" stroke-width="1.3" stroke-linejoin="miter"/>
<polygon points="956.48,114.13 964.77,114.13 960.62,122.43" fill="#ff7f0e" stroke="#ff7f0e" stroke-width="1.3" stroke-linejoin="miter"/>
<polygon points="1012.30,125.87 1020.60,125.87 1016.45,134.17" fill="#ff7f0e" stroke="#ff7f0e" stroke-width="1.3" stroke-linejoin="miter"/>
<polygon points="1068.12,185.72 1076.42,185.72 1072.27,194.02" fill="#ff7f0e" stroke="#ff7f0e" stroke-width="1.3" stroke-linejoin="miter"/>
<polygon points="1123.95,299.34 1132.25,299.34 1128.10,307.64" fill="#ff7f0e" stroke="#ff7f0e" stroke-width="1.3" stroke-linejoin="miter"/>
<polyline points="681.50,82.30 737.33,83.06 793.15,84.57 848.98,91.77 904.80,100.48 960.62,112.60 1016.45,123.96 1072.27,181.91 1128.10,296.67" fill="none" stroke="#ff7f0e" stroke-width="2.1" stroke-dasharray="7.77,3.36"/>
<polygon points="677.35,78.15 685.65,78.15 681.50,86.45" fill="#ff7f0e" stroke="#ff7f0e" stroke-width="1.3" stroke-linejoin="miter"/>
<polygon points="733.18,78.91 741.48,78.91 737.33,87.21" fill="#ff7f0e" stroke="#ff7f0e" stroke-width="1.3" stroke-linejoin="miter"/>
<polygon points="789.00,80.42 797.30,80.42 793.15,88.72" fill="#ff7f0e" stroke="#ff7f0e" stroke-width="1.3" stroke-linejoin="miter"/>
<polygon points="844.83,87.62 853.12,87.62 848.98,95.92" fill="#ff7f0e" stroke="#ff7f0e" stroke-width="1.3" stroke-linejoin="miter"/>
<polygon points="900.65,96.33 908.95,96.33 904.80,104.63" fill="#ff7f0e" stroke="#ff7f0e" stroke-width="1.3" stroke-linejoin="miter"/>
<polygon points="956.48,108.45 964.77,108.45 960.62,116.75" fill="#ff7f0e" stroke="#ff7f0e" stroke-width="1.3" stroke-linejoin="miter"/>
<polygon points="1012.30,119.81 1020.60,119.81 1016.45,128.11" fill="#ff7f0e" stroke="#ff7f0e" stroke-width="1.3" stroke-linejoin="miter"/>
<polygon points="1068.12,177.76 1076.42,177.76 1072.27,186.06" fill="#ff7f0e" stroke="#ff7f0e" stroke-width="1.3" stroke-linejoin="miter"/>
<polygon points="1123.95,292.52 1132.25,292.52 1128.10,300.82" fill="#ff7f0e" stroke="#ff7f0e" stroke-width="1.3" stroke-linejoin="miter"/>
<polyline points="681.50,82.30 737.33,83.06 793.15,84.19 848.98,89.50 904.80,96.69 960.62,108.05 1016.45,117.90 1072.27,173.96 1128.10,290.99" fill="none" stroke="#ff7f0e" stroke-width="2.1"/>
<polygon points="677.35,78.15 685.65,78.15 681.50,86.45" fill="#ff7f0e" stroke="#ff7f0e" stroke-width="1.3" stroke-linejoin="miter"/>
<polygon points="733.18,78.91 741.48,78.91 737.33,87.21" fill="#ff7f0e" stroke="#ff7f0e" stroke-width="1.3" stroke-linejoin="miter"/>
<polygon points="789.00,80.04 797.30,80.04 793.15,88.34" fill="#ff7f0e" stroke="#ff7f0e" stroke-width="1.3" stroke-linejoin="miter"/>
<polygon points="844.83,85.35 853.12,85.35 848.98,93.65" fill="#ff7f0e" stroke="#ff7f0e" stroke-width="1.3" stroke-linejoin="miter"/>
<polygon points="900.65,92.54 908.95,92.54 904.80,100.84" fill="#ff7f0e" stroke="#ff7f0e" stroke-width="1.3" stroke-linejoin="miter"/>
<polygon points="956.48,103.90 964.77,103.90 960.62,112.20" fill="#ff7f0e" stroke="#ff7f0e" stroke-width="1.3" stroke-linejoin="miter"/>
<polygon points="1012.30,113.75 1020.60,113.75 1016.45,122.05" fill="#ff7f0e" stroke="#ff7f0e" stroke-width="1.3" stroke-linejoin="miter"/>
<polygon points="1068.12,169.81 1076.42,169.81 1072.27,178.11" fill="#ff7f0e" stroke="#ff7f0e" stroke-width="1.3" stroke-linejoin="miter"/>
<polygon points="1123.95,286.84 1132.25,286.84 1128.10,295.14" fill="#ff7f0e" stroke="#ff7f0e" stroke-width="1.3" stroke-linejoin="miter"/>
<polyline points="681.50,82.30 737.33,82.30 793.15,83.06 848.98,85.33 904.80,89.12 960.62,93.66 1016.45,102.75 1072.27,147.44 1128.10,253.87" fill="none" stroke="#2ca02c" stroke-width="2.1" stroke-dasharray="2.10,3.46"/>
<path d="M677.35,78.15L685.65,86.45M677.35,86.45L685.65,78.15" stroke="#2ca02c" stroke-width="1.6" fill="none"/>
<path d="M733.18,78.15L741.48,86.45M733.18,86.45L741.48,78.15" stroke="#2ca02c" stroke-width="1.6" fill="none"/>
<path d="M789.00,78.91L797.30,87.21M789.00,87.21L797.30,78.91" stroke="#2ca02c" stroke-width="1.6" fill="none"/>
<path d="M844.83,81.18L853.12,89.48M844.83,89.48L853.12,81.18" stroke="#2ca02c" stroke-width="1.6" fill="none"/>
<path d="M900.65,84.97L908.95,93.27M900.65,93.27L908.95,84.97" stroke="#2ca02c" stroke-width="1.6" fill="none"/>
<path d="M956.48,89.51L964.77,97.81M956.48,97.81L964.77,89.51" stroke="#2ca02c" stroke-width="1.6" fill="none"/>
<path d="M1012.30,98.60L1020.60,106.90M1012.30,106.90L1020.60,98.60" stroke="#2ca02c" stroke-width="1.6" fill="none"/>
<path d="M1068.12,143.29L1076.42,151.59M1068.12,151.59L1076.42,143.29" stroke="#2ca02c" stroke-width="1.6" fill="none"/>
<path d="M1123.95,249.72L1132.25,258.02M1123.95,258.02L1132.25,249.72" stroke="#2ca02c" stroke-width="1.6" fill="none"/>
<polyline points="681.50,82.30 737.33,82.30 793.15,82.68 848.98,84.19 904.80,86.84 960.62,91.39 1016.45,98.59 1072.27,141.76 1128.10,251.98" fill="none" stroke="#2ca02c" stroke-width="2.1" stroke-dasharray="7.77,3.36"/>
<path d="M677.35,78.15L685.65,86.45M677.35,86.45L685.65,78.15" stroke="#2ca02c" stroke-width="1.6" fill="none"/>
<path d="M733.18,78.15L741.48,86.45M733.18,86.45L741.48,78.15" stroke="#2ca02c" stroke-width="1.6" fill="none"/>
<path d="M789.00,78.53L797.30,86.83M789.00,86.83L797.30,78.53" stroke="#2ca02c" stroke-width="1.6" fill="none"/>
<path d="M844.83,80.04L853.12,88.34M844.83,88.34L853.12,80.04" stroke="#2ca02c" stroke-width="1.6" fill="none"/>
<path d="M900.65,82.69L908.95,91.00M900.65,91.00L908.95,82.69" stroke="#2ca02c" stroke-width="1.6" fill="none"/>
<path d="M956.48,87.24L964.77,95.54M956.48,95.54L964.77,87.24" stroke="#2ca02c" stroke-width="1.6" fill="none"/>
<path d="M1012.30,94.44L1020.60,102.74M1012.30,102.74L1020.60,94.44" stroke="#2ca02c" stroke-width="1.6" fill="none"/>
<path d="M1068.12,137.61L1076.42,145.91M1068.12,145.91L1076.42,137.61" stroke="#2ca02c" stroke-width="1.6" fill="none"/>
<path d="M1123.95,247.83L1132.25,256.13M1123.95,256.13L1132.25,247.83" stroke="#2ca02c" stroke-width="1.6" fill="none"/>
<polyline points="681.50,82.30 737.33,82.30 793.15,82.30 848.98,83.06 904.80,84.19 960.62,86.84 1016.45,92.53 1072.27,130.78 1128.10,233.80" fill="none" stroke="#2ca02c" stroke-width="2.1"/>
<path d="M677.35,78.15L685.65,86.45M677.35,86.45L685.65,78.15" stroke="#2ca02c" stroke-width="1.6" fill="none"/>
<path d="M733.18,78.15L741.48,86.45M733.18,86.45L741.48,78.15" stroke="#2ca02c" stroke-width="1.6" fill="none"/>
<path d="M789.00,78.15L797.30,86.45M789.00,86.45L797.30,78.15" stroke="#2ca02c" stroke-width="1.6" fill="none"/>
<path d="M844.83,78.91L853.12,87.21M844.83,87.21L853.12,78.91" stroke="#2ca02c" stroke-width="1.6" fill="none"/>
<path d="M900.65,80.04L908.95,88.34M900.65,88.34L908.95,80.04" stroke="#2ca02c" stroke-width="1.6" fill="none"/>
<path d="M956.48,82.69L964.77,91.00M956.48,91.00L964.77,82.69" stroke="#2ca02c" stroke-width="1.6" fill="none"/>
<path d="M1012.30,88.38L1020.60,96.68M1012.30,96.68L1020.60,88.38" stroke="#2ca02c" stroke-width="1.6" fill="none"/>
<path d="M1068.12,126.63L1076.42,134.93M1068.12,134.93L1076.42,126.63" stroke="#2ca02c" stroke-width="1.6" fill="none"/>
<path d="M1123.95,229.65L1132.25,237.95M1123.95,237.95L1132.25,229.65" stroke="#2ca02c" stroke-width="1.6" fill="none"/>
<polyline points="681.50,82.30 737.33,82.30 793.15,82.30 848.98,82.30 904.80,82.30 960.62,82.30 1016.45,82.68 1072.27,95.56 1128.10,200.09" fill="none" stroke="#9467bd" stroke-width="2.1" stroke-dasharray="2.10,3.46"/>
<rect x="677.35" y="78.15" width="8.30" height="8.30" fill="#9467bd" stroke="#9467bd" stroke-width="1.3"/>
<rect x="733.18" y="78.15" width="8.30" height="8.30" fill="#9467bd" stroke="#9467bd" stroke-width="1.3"/>
<rect x="789.00" y="78.15" width="8.30" height="8.30" fill="#9467bd" stroke="#9467bd" stroke-width="1.3"/>
<rect x="844.83" y="78.15" width="8.30" height="8.30" fill="#9467bd" stroke="#9467bd" stroke-width="1.3"/>
<rect x="900.65" y="78.15" width="8.30" height="8.30" fill="#9467bd" stroke="#9467bd" stroke-width="1.3"/>
<rect x="956.48" y="78.15" width="8.30" height="8.30" fill="#9467bd" stroke="#9467bd" stroke-width="1.3"/>
<rect x="1012.30" y="78.53" width="8.30" height="8.30" fill="#9467bd" stroke="#9467bd" stroke-width="1.3"/>
<rect x="1068.12" y="91.41" width="8.30" height="8.30" fill="#9467bd" stroke="#9467bd" stroke-width="1.3"/>
<rect x="1123.95" y="195.94" width="8.30" height="8.30" fill="#9467bd" stroke="#9467bd" stroke-width="1.3"/>
<polyline points="681.50,82.30 737.33,82.30 793.15,82.30 848.98,82.30 904.80,82.30 960.62,82.30 1016.45,82.68 1072.27,93.66 1128.10,182.29" fill="none" stroke="#9467bd" stroke-width="2.1" stroke-dasharray="7.77,3.36"/>
<rect x="677.35" y="78.15" width="8.30" height="8.30" fill="#9467bd" stroke="#9467bd" stroke-width="1.3"/>
<rect x="733.18" y="78.15" width="8.30" height="8.30" fill="#9467bd" stroke="#9467bd" stroke-width="1.3"/>
<rect x="789.00" y="78.15" width="8.30" height="8.30" fill="#9467bd" stroke="#9467bd" stroke-width="1.3"/>
<rect x="844.83" y="78.15" width="8.30" height="8.30" fill="#9467bd" stroke="#9467bd" stroke-width="1.3"/>
<rect x="900.65" y="78.15" width="8.30" height="8.30" fill="#9467bd" stroke="#9467bd" stroke-width="1.3"/>
<rect x="956.48" y="78.15" width="8.30" height="8.30" fill="#9467bd" stroke="#9467bd" stroke-width="1.3"/>
<rect x="1012.30" y="78.53" width="8.30" height="8.30" fill="#9467bd" stroke="#9467bd" stroke-width="1.3"/>
<rect x="1068.12" y="89.51" width="8.30" height="8.30" fill="#9467bd" stroke="#9467bd" stroke-width="1.3"/>
<rect x="1123.95" y="178.14" width="8.30" height="8.30" fill="#9467bd" stroke="#9467bd" stroke-width="1.3"/>
<polyline points="681.50,82.30 737.33,82.30 793.15,82.30 848.98,82.30 904.80,82.30 960.62,82.30 1016.45,82.30 1072.27,91.77 1128.10,168.28" fill="none" stroke="#9467bd" stroke-width="2.1"/>
<rect x="677.35" y="78.15" width="8.30" height="8.30" fill="#9467bd" stroke="#9467bd" stroke-width="1.3"/>
<rect x="733.18" y="78.15" width="8.30" height="8.30" fill="#9467bd" stroke="#9467bd" stroke-width="1.3"/>
<rect x="789.00" y="78.15" width="8.30" height="8.30" fill="#9467bd" stroke="#9467bd" stroke-width="1.3"/>
<rect x="844.83" y="78.15" width="8.30" height="8.30" fill="#9467bd" stroke="#9467bd" stroke-width="1.3"/>
<rect x="900.65" y="78.15" width="8.30" height="8.30" fill="#9467bd" stroke="#9467bd" stroke-width="1.3"/>
<rect x="956.48" y="78.15" width="8.30" height="8.30" fill="#9467bd" stroke="#9467bd" stroke-width="1.3"/>
<rect x="1012.30" y="78.15" width="8.30" height="8.30" fill="#9467bd" stroke="#9467bd" stroke-width="1.3"/>
<rect x="1068.12" y="87.62" width="8.30" height="8.30" fill="#9467bd" stroke="#9467bd" stroke-width="1.3"/>
<rect x="1123.95" y="164.13" width="8.30" height="8.30" fill="#9467bd" stroke="#9467bd" stroke-width="1.3"/>
<polyline points="681.50,82.30 737.33,82.30 793.15,82.30 848.98,82.30 904.80,82.30 960.62,82.68 1016.45,84.95 1072.27,115.63 1128.10,206.53" fill="none" stroke="#d62728" stroke-width="2.1" stroke-dasharray="2.10,3.46"/>
<polygon points="677.35,86.45 685.65,86.45 681.50,78.15" fill="#d62728" stroke="#d62728" stroke-width="1.3" stroke-linejoin="miter"/>
<polygon points="733.18,86.45 741.48,86.45 737.33,78.15" fill="#d62728" stroke="#d62728" stroke-width="1.3" stroke-linejoin="miter"/>
<polygon points="789.00,86.45 797.30,86.45 793.15,78.15" fill="#d62728" stroke="#d62728" stroke-width="1.3" stroke-linejoin="miter"/>
<polygon points="844.83,86.45 853.12,86.45 848.98,78.15" fill="#d62728" stroke="#d62728" stroke-width="1.3" stroke-linejoin="miter"/>
<polygon points="900.65,86.45 908.95,86.45 904.80,78.15" fill="#d62728" stroke="#d62728" stroke-width="1.3" stroke-linejoin="miter"/>
<polygon points="956.48,86.83 964.77,86.83 960.62,78.53" fill="#d62728" stroke="#d62728" stroke-width="1.3" stroke-linejoin="miter"/>
<polygon points="1012.30,89.10 1020.60,89.10 1016.45,80.80" fill="#d62728" stroke="#d62728" stroke-width="1.3" stroke-linejoin="miter"/>
<polygon points="1068.12,119.78 1076.42,119.78 1072.27,111.48" fill="#d62728" stroke="#d62728" stroke-width="1.3" stroke-linejoin="miter"/>
<polygon points="1123.95,210.68 1132.25,210.68 1128.10,202.38" fill="#d62728" stroke="#d62728" stroke-width="1.3" stroke-linejoin="miter"/>
<polyline points="681.50,82.30 737.33,82.30 793.15,82.30 848.98,82.30 904.80,82.30 960.62,82.68 1016.45,86.09 1072.27,114.87 1128.10,208.04" fill="none" stroke="#d62728" stroke-width="2.1" stroke-dasharray="7.77,3.36"/>
<polygon points="677.35,86.45 685.65,86.45 681.50,78.15" fill="#d62728" stroke="#d62728" stroke-width="1.3" stroke-linejoin="miter"/>
<polygon points="733.18,86.45 741.48,86.45 737.33,78.15" fill="#d62728" stroke="#d62728" stroke-width="1.3" stroke-linejoin="miter"/>
<polygon points="789.00,86.45 797.30,86.45 793.15,78.15" fill="#d62728" stroke="#d62728" stroke-width="1.3" stroke-linejoin="miter"/>
<polygon points="844.83,86.45 853.12,86.45 848.98,78.15" fill="#d62728" stroke="#d62728" stroke-width="1.3" stroke-linejoin="miter"/>
<polygon points="900.65,86.45 908.95,86.45 904.80,78.15" fill="#d62728" stroke="#d62728" stroke-width="1.3" stroke-linejoin="miter"/>
<polygon points="956.48,86.83 964.77,86.83 960.62,78.53" fill="#d62728" stroke="#d62728" stroke-width="1.3" stroke-linejoin="miter"/>
<polygon points="1012.30,90.24 1020.60,90.24 1016.45,81.94" fill="#d62728" stroke="#d62728" stroke-width="1.3" stroke-linejoin="miter"/>
<polygon points="1068.12,119.02 1076.42,119.02 1072.27,110.72" fill="#d62728" stroke="#d62728" stroke-width="1.3" stroke-linejoin="miter"/>
<polygon points="1123.95,212.19 1132.25,212.19 1128.10,203.89" fill="#d62728" stroke="#d62728" stroke-width="1.3" stroke-linejoin="miter"/>
<polyline points="681.50,82.30 737.33,82.30 793.15,82.30 848.98,82.30 904.80,82.30 960.62,82.68 1016.45,83.81 1072.27,103.13 1128.10,190.62" fill="none" stroke="#d62728" stroke-width="2.1"/>
<polygon points="677.35,86.45 685.65,86.45 681.50,78.15" fill="#d62728" stroke="#d62728" stroke-width="1.3" stroke-linejoin="miter"/>
<polygon points="733.18,86.45 741.48,86.45 737.33,78.15" fill="#d62728" stroke="#d62728" stroke-width="1.3" stroke-linejoin="miter"/>
<polygon points="789.00,86.45 797.30,86.45 793.15,78.15" fill="#d62728" stroke="#d62728" stroke-width="1.3" stroke-linejoin="miter"/>
<polygon points="844.83,86.45 853.12,86.45 848.98,78.15" fill="#d62728" stroke="#d62728" stroke-width="1.3" stroke-linejoin="miter"/>
<polygon points="900.65,86.45 908.95,86.45 904.80,78.15" fill="#d62728" stroke="#d62728" stroke-width="1.3" stroke-linejoin="miter"/>
<polygon points="956.48,86.83 964.77,86.83 960.62,78.53" fill="#d62728" stroke="#d62728" stroke-width="1.3" stroke-linejoin="miter"/>
<polygon points="1012.30,87.97 1020.60,87.97 1016.45,79.66" fill="#d62728" stroke="#d62728" stroke-width="1.3" stroke-linejoin="miter"/>
<polygon points="1068.12,107.28 1076.42,107.28 1072.27,98.98" fill="#d62728" stroke="#d62728" stroke-width="1.3" stroke-linejoin="miter"/>
<polygon points="1123.95,194.77 1132.25,194.77 1128.10,186.47" fill="#d62728" stroke="#d62728" stroke-width="1.3" stroke-linejoin="miter"/>
</g>
<rect x="659.1" y="47.4" width="491.00" height="365.30" fill="none" stroke="#4a4a4a" stroke-width="1.8"/>
<path d="M681.50,412.7v4.8M737.33,412.7v4.8M793.15,412.7v4.8M848.98,412.7v4.8M904.80,412.7v4.8M960.62,412.7v4.8M1016.45,412.7v4.8M1072.27,412.7v4.8M1128.10,412.7v4.8M659.1,385.30h-4.8M659.1,309.55h-4.8M659.1,233.80h-4.8M659.1,158.05h-4.8M659.1,82.30h-4.8" stroke="#333" stroke-width="1.5" fill="none"/>
<text y="433.70" font-size="15.01"><tspan x="75.37 84.09 88.56">0.1</tspan></text>
<text y="433.70" font-size="15.01"><tspan x="131.23 139.95 144.31">0.2</tspan></text>
<text y="433.70" font-size="15.01"><tspan x="186.89 195.61 200.17">0.3</tspan></text>
<text y="433.70" font-size="15.01"><tspan x="242.52 251.24 255.79">0.4</tspan></text>
<text y="433.70" font-size="15.01"><tspan x="298.54 307.26 311.75">0.5</tspan></text>
<text y="433.70" font-size="15.01"><tspan x="354.17 362.89 367.43">0.6</tspan></text>
<text y="433.70" font-size="15.01"><tspan x="410.13 418.84 423.36">0.7</tspan></text>
<text y="433.70" font-size="15.01"><tspan x="465.81 474.52 479.07">0.8</tspan></text>
<text y="433.70" font-size="15.01"><tspan x="521.62 530.34 534.84">0.9</tspan></text>
<text y="369.00" font-size="15.01"><tspan x="31.92 40.64 45.18">0.4</tspan></text>
<text y="319.30" font-size="15.01"><tspan x="32.35 41.07 45.56">0.5</tspan></text>
<text y="269.60" font-size="15.01"><tspan x="32.01 40.73 45.28">0.6</tspan></text>
<text y="219.90" font-size="15.01"><tspan x="32.33 41.04 45.56">0.7</tspan></text>
<text y="170.20" font-size="15.01"><tspan x="32.09 40.81 45.35">0.8</tspan></text>
<text y="120.50" font-size="15.01"><tspan x="32.12 40.83 45.33">0.9</tspan></text>
<text y="70.80" font-size="15.01"><tspan x="31.98 40.78 45.32">1.0</tspan></text>
<text y="433.70" font-size="15.01"><tspan x="670.47 679.19 683.66">0.1</tspan></text>
<text y="433.70" font-size="15.01"><tspan x="726.35 735.07 739.43">0.2</tspan></text>
<text y="433.70" font-size="15.01"><tspan x="782.04 790.76 795.32">0.3</tspan></text>
<text y="433.70" font-size="15.01"><tspan x="837.70 846.41 850.96">0.4</tspan></text>
<text y="433.70" font-size="15.01"><tspan x="893.74 902.46 906.95">0.5</tspan></text>
<text y="433.70" font-size="15.01"><tspan x="949.40 958.11 962.66">0.6</tspan></text>
<text y="433.70" font-size="15.01"><tspan x="1005.38 1014.09 1018.61">0.7</tspan></text>
<text y="433.70" font-size="15.01"><tspan x="1061.08 1069.80 1074.35">0.8</tspan></text>
<text y="433.70" font-size="15.01"><tspan x="1116.92 1125.64 1130.14">0.9</tspan></text>
<text y="390.60" font-size="15.01"><tspan x="628.13 636.85 641.21">0.2</tspan></text>
<text y="314.85" font-size="15.01"><tspan x="627.52 636.24 640.78">0.4</tspan></text>
<text y="239.10" font-size="15.01"><tspan x="627.61 636.33 640.88">0.6</tspan></text>
<text y="163.35" font-size="15.01"><tspan x="627.69 636.41 640.95">0.8</tspan></text>
<text y="87.60" font-size="15.01"><tspan x="627.58 636.38 640.92">1.0</tspan></text>
<text y="456.80" font-size="20.59"><tspan x="233.86 273.94 285.22 329.59 341.67 353.77 373.74">Ackengh</tspan></text><text transform="translate(250.82,456.80) scale(1.255,1)" x="-2.94" font-size="20.59">t</text><text transform="translate(258.40,456.80) scale(1.255,1)" x="-2.94" font-size="20.59">t</text><text transform="translate(267.78,456.80) scale(0.844,1)" x="-6.16" font-size="20.59">a</text><text transform="translate(308.20,456.80) scale(0.837,1)" x="-6.86" font-size="20.59">S</text><text transform="translate(318.06,456.80) scale(1.255,1)" x="-2.94" font-size="20.59">t</text><text transform="translate(326.67,456.80) scale(1.203,1)" x="-3.94" font-size="20.59">r</text><text transform="translate(369.56,456.80) scale(1.255,1)" x="-2.94" font-size="20.59">t</text>
<text y="457.00" font-size="20.59"><tspan x="829.06 869.14 880.42 924.79 936.87 948.97 968.94">Ackengh</tspan></text><text transform="translate(846.02,457.00) scale(1.255,1)" x="-2.94" font-size="20.59">t</text><text transform="translate(853.60,457.00) scale(1.255,1)" x="-2.94" font-size="20.59">t</text><text transform="translate(862.98,457.00) scale(0.844,1)" x="-6.16" font-size="20.59">a</text><text transform="translate(903.40,457.00) scale(0.837,1)" x="-6.86" font-size="20.59">S</text><text transform="translate(913.26,457.00) scale(1.255,1)" x="-2.94" font-size="20.59">t</text><text transform="translate(921.87,457.00) scale(1.203,1)" x="-3.94" font-size="20.59">r</text><text transform="translate(964.76,457.00) scale(1.255,1)" x="-2.94" font-size="20.59">t</text>
<g transform="translate(22.1,230.0) rotate(-90)"><text y="0.00" font-size="20.59"><tspan x="-104.77 -89.66 -70.18 -58.62 -39.94 -34.78 -22.71 8.94 21.01 40.04 45.30 57.53 69.60 81.35 92.30">Deeciononidence</tspan></text><text transform="translate(-74.21,0.00) scale(1.255,1)" x="-2.94" font-size="20.59">t</text><text transform="translate(-44.11,0.00) scale(1.255,1)" x="-2.94" font-size="20.59">t</text><text transform="translate(2.02,0.00) scale(0.872,1)" x="-7.56" font-size="20.59">C</text><text transform="translate(36.63,0.00) scale(1.233,1)" x="-3.02" font-size="20.59">f</text></g>
<g transform="translate(618.1,230.1) rotate(-90)"><text y="0.00" font-size="20.59"><tspan x="-104.77 -89.66 -70.18 -58.62 -39.94 -34.78 -22.71 8.94 21.01 40.04 45.30 57.53 69.60 81.35 92.30">Deeciononidence</tspan></text><text transform="translate(-74.21,0.00) scale(1.255,1)" x="-2.94" font-size="20.59">t</text><text transform="translate(-44.11,0.00) scale(1.255,1)" x="-2.94" font-size="20.59">t</text><text transform="translate(2.02,0.00) scale(0.872,1)" x="-7.56" font-size="20.59">C</text><text transform="translate(36.63,0.00) scale(1.233,1)" x="-3.02" font-size="20.59">f</text></g>
<text y="32.70" font-size="29.10" font-weight="bold"><tspan x="197.81 218.27 234.48 242.42 277.64 294.43 317.64 328.93 347.20">Delengrow</tspan></text><text transform="translate(264.20,32.70) scale(1.159,1)" x="-4.85" font-size="29.10" font-weight="bold">t</text><text transform="translate(273.81,32.70) scale(1.262,1)" x="-4.03" font-size="29.10" font-weight="bold">i</text><text transform="translate(376.94,32.70) scale(0.805,1)" x="-8.01" font-size="29.10" font-weight="bold">s</text>
<text y="29.80" font-size="29.10" font-weight="bold"><tspan x="771.41 791.87 808.08 816.02 851.24 868.03 904.56 922.06 929.72 947.60 973.42">Delengolumn</tspan></text><text transform="translate(837.80,29.80) scale(1.159,1)" x="-4.85" font-size="29.10" font-weight="bold">t</text><text transform="translate(847.41,29.80) scale(1.262,1)" x="-4.03" font-size="29.10" font-weight="bold">i</text><text transform="translate(898.30,29.80) scale(0.866,1)" x="-8.23" font-size="29.10" font-weight="bold">c</text><text transform="translate(997.31,29.80) scale(0.805,1)" x="-8.01" font-size="29.10" font-weight="bold">s</text>
<rect x="71.3" y="170.6" width="214.5" height="233.6" rx="3.5" ry="3.5" fill="#fff" fill-opacity="0.8" stroke="#d6d6d6" stroke-width="1.3"/>
<text y="188.30" font-size="15.96" fill="#1a1a1a"><tspan x="130.00 144.49 153.93 163.31 172.95 182.65 186.94 196.46 232.51 236.61">mbeddingio</tspan></text><text transform="translate(124.66,188.30) scale(0.825,1)" x="-5.63" font-size="15.96" fill="#1a1a1a">E</text><text transform="translate(214.46,188.30) scale(1.220,1)" x="-3.05" font-size="15.96" fill="#1a1a1a">r</text><text transform="translate(221.32,188.30) scale(0.856,1)" x="-4.78" font-size="15.96" fill="#1a1a1a">a</text><text transform="translate(229.21,188.30) scale(1.273,1)" x="-2.28" font-size="15.96" fill="#1a1a1a">t</text>
<text y="211.00" font-size="15.96" fill="#1a1a1a"><tspan x="119.91">1</tspan><tspan x="134.98" font-style="italic">γ</tspan><tspan x="166.18 175.65 180.68 190.37 204.55">0.03-</tspan><tspan x="227.63" font-style="italic">ω</tspan><tspan x="263.01">7</tspan></text><text transform="translate(131.83,211.00) scale(1.155,1)" x="-2.22" font-size="15.96" fill="#1a1a1a">/</text><text transform="translate(154.59,211.00) scale(1.227,1)" x="-4.66" font-size="15.96" fill="#1a1a1a">=</text><text transform="translate(216.31,211.00) scale(1.227,1)" x="-4.66" font-size="15.96" fill="#1a1a1a">&gt;</text><text transform="translate(251.44,211.00) scale(1.227,1)" x="-4.66" font-size="15.96" fill="#1a1a1a">=</text>
<line x1="76" y1="206.0" x2="108.2" y2="206.0" stroke="#1f77b4" stroke-width="2.1"/>
<circle cx="92.10" cy="206.00" r="4.15" fill="#1f77b4" stroke="#1f77b4" stroke-width="1.3"/>
<text y="234.30" font-size="15.96" fill="#1a1a1a"><tspan x="119.91">1</tspan><tspan x="134.98" font-style="italic">γ</tspan><tspan x="166.18 175.65 180.68 190.35 204.55">0.06-</tspan><tspan x="227.63" font-style="italic">ω</tspan><tspan x="262.95 272.65">15</tspan></text><text transform="translate(131.83,234.30) scale(1.155,1)" x="-2.22" font-size="15.96" fill="#1a1a1a">/</text><text transform="translate(154.59,234.30) scale(1.227,1)" x="-4.66" font-size="15.96" fill="#1a1a1a">=</text><text transform="translate(216.31,234.30) scale(1.227,1)" x="-4.66" font-size="15.96" fill="#1a1a1a">&gt;</text><text transform="translate(251.44,234.30) scale(1.227,1)" x="-4.66" font-size="15.96" fill="#1a1a1a">=</text>
<line x1="76" y1="229.3" x2="108.2" y2="229.3" stroke="#ff7f0e" stroke-width="2.1"/>
<polygon points="87.95,225.15 96.25,225.15 92.10,233.45" fill="#ff7f0e" stroke="#ff7f0e" stroke-width="1.3" stroke-linejoin="miter"/>
<text y="258.50" font-size="15.96" fill="#1a1a1a"><tspan x="119.91">1</tspan><tspan x="134.98" font-style="italic">γ</tspan><tspan x="166.18 175.65 180.60 190.15 204.55">0.12-</tspan><tspan x="227.63" font-style="italic">ω</tspan><tspan x="263.06 272.63">31</tspan></text><text transform="translate(131.83,258.50) scale(1.155,1)" x="-2.22" font-size="15.96" fill="#1a1a1a">/</text><text transform="translate(154.59,258.50) scale(1.227,1)" x="-4.66" font-size="15.96" fill="#1a1a1a">=</text><text transform="translate(216.31,258.50) scale(1.227,1)" x="-4.66" font-size="15.96" fill="#1a1a1a">&gt;</text><text transform="translate(251.44,258.50) scale(1.227,1)" x="-4.66" font-size="15.96" fill="#1a1a1a">=</text>
<line x1="76" y1="253.5" x2="108.2" y2="253.5" stroke="#2ca02c" stroke-width="2.1"/>
<path d="M87.95,249.35L96.25,257.65M87.95,257.65L96.25,249.35" stroke="#2ca02c" stroke-width="1.6" fill="none"/>
<text y="282.30" font-size="15.96" fill="#1a1a1a"><tspan x="119.91">1</tspan><tspan x="134.98" font-style="italic">γ</tspan><tspan x="166.18 175.65 179.65 189.46 203.71">0.25-</tspan><tspan x="226.79" font-style="italic">ω</tspan><tspan x="262.20 271.89">63</tspan></text><text transform="translate(131.83,282.30) scale(1.155,1)" x="-2.22" font-size="15.96" fill="#1a1a1a">/</text><text transform="translate(154.59,282.30) scale(1.227,1)" x="-4.66" font-size="15.96" fill="#1a1a1a">=</text><text transform="translate(215.48,282.30) scale(1.227,1)" x="-4.66" font-size="15.96" fill="#1a1a1a">&gt;</text><text transform="translate(250.61,282.30) scale(1.227,1)" x="-4.66" font-size="15.96" fill="#1a1a1a">=</text>
<line x1="76" y1="277.3" x2="108.2" y2="277.3" stroke="#d62728" stroke-width="2.1"/>
<rect x="87.95" y="273.15" width="8.30" height="8.30" fill="#d62728" stroke="#d62728" stroke-width="1.3"/>
<text y="306.00" font-size="15.96" fill="#1a1a1a"><tspan x="119.91">1</tspan><tspan x="134.98" font-style="italic">γ</tspan><tspan x="166.18 175.65 180.62 194.88">0.5-</tspan><tspan x="217.96" font-style="italic">ω</tspan><tspan x="253.28 262.83 272.68">127</tspan></text><text transform="translate(131.83,306.00) scale(1.155,1)" x="-2.22" font-size="15.96" fill="#1a1a1a">/</text><text transform="translate(154.59,306.00) scale(1.227,1)" x="-4.66" font-size="15.96" fill="#1a1a1a">=</text><text transform="translate(206.64,306.00) scale(1.227,1)" x="-4.66" font-size="15.96" fill="#1a1a1a">&gt;</text><text transform="translate(241.77,306.00) scale(1.227,1)" x="-4.66" font-size="15.96" fill="#1a1a1a">=</text>
<line x1="76" y1="301.0" x2="108.2" y2="301.0" stroke="#9467bd" stroke-width="2.1"/>
<polygon points="87.95,305.15 96.25,305.15 92.10,296.85" fill="#9467bd" stroke="#9467bd" stroke-width="1.3" stroke-linejoin="miter"/>
<text y="329.10" font-size="15.96" fill="#1a1a1a"><tspan x="119.52 131.24 140.67 144.84 154.58 164.31 173.69 183.12 198.78 208.24 217.54 226.92 241.18 249.37 253.32 261.49">Neighbouhoodsize</tspan></text><text transform="translate(196.22,329.10) scale(1.220,1)" x="-3.05" font-size="15.96" fill="#1a1a1a">r</text>
<text y="351.20" font-size="15.96" fill="#1a1a1a"><tspan x="120.13 151.22 160.87">k30</tspan></text><text transform="translate(139.60,351.20) scale(1.227,1)" x="-4.66" font-size="15.96" fill="#1a1a1a">=</text>
<line x1="76" y1="346.2" x2="108.2" y2="346.2" stroke="#7f7f7f" stroke-width="2.1" stroke-dasharray="2.10,3.46"/>
<text y="373.50" font-size="15.96" fill="#1a1a1a"><tspan x="120.13 151.22 160.87 170.54">k300</tspan></text><text transform="translate(139.60,373.50) scale(1.227,1)" x="-4.66" font-size="15.96" fill="#1a1a1a">=</text>
<line x1="76" y1="368.5" x2="108.2" y2="368.5" stroke="#7f7f7f" stroke-width="2.1" stroke-dasharray="7.77,3.36"/>
<text y="395.50" font-size="15.96" fill="#1a1a1a"><tspan x="120.13 151.19 160.81 170.54">k450</tspan></text><text transform="translate(139.60,395.50) scale(1.227,1)" x="-4.66" font-size="15.96" fill="#1a1a1a">=</text>
<line x1="76" y1="390.5" x2="108.2" y2="390.5" stroke="#7f7f7f" stroke-width="2.1"/>
</svg>
</body></html>
